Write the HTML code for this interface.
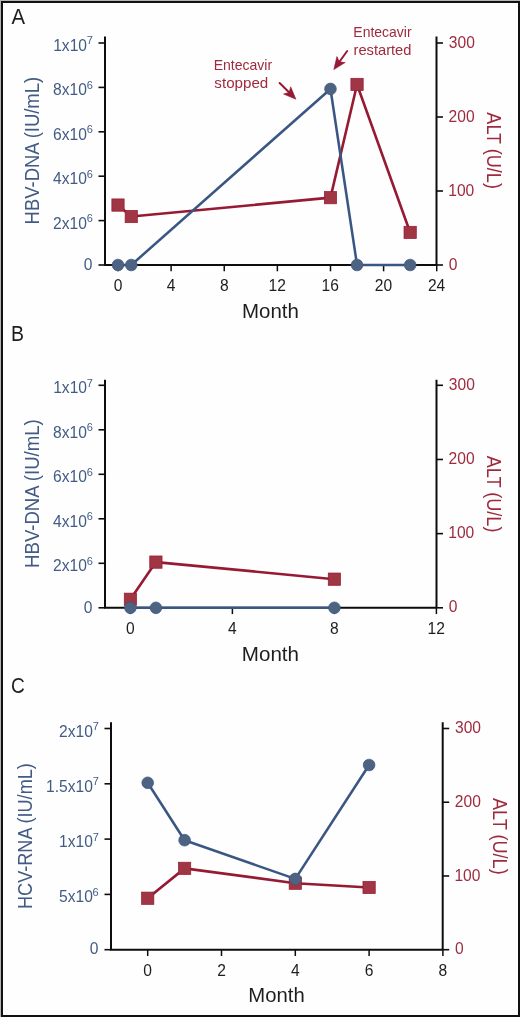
<!DOCTYPE html>
<html><head><meta charset="utf-8"><style>
html,body{margin:0;padding:0;background:#fff;}
body{width:520px;height:1017px;overflow:hidden;position:relative;}
svg{position:absolute;left:0;top:0;will-change:transform;font-family:"Liberation Sans", sans-serif;}
</style></head><body>
<svg width="520" height="1017" viewBox="0 0 520 1017">
<rect x="0" y="0" width="520" height="1017" fill="#b4b4b4"/>
<rect x="1" y="1" width="519" height="1016" fill="#111"/>
<rect x="3" y="3" width="515" height="1012" fill="#fefefe"/>
<path d="M105,36.5 V265.0 H436.5 M436.5,36.5 V265.0" fill="none" stroke="#0d0d0d" stroke-width="2"/>
<line x1="98.5" y1="43" x2="105" y2="43" stroke="#0d0d0d" stroke-width="1.6"/>
<line x1="98.5" y1="87.4" x2="105" y2="87.4" stroke="#0d0d0d" stroke-width="1.6"/>
<line x1="98.5" y1="131.8" x2="105" y2="131.8" stroke="#0d0d0d" stroke-width="1.6"/>
<line x1="98.5" y1="176.2" x2="105" y2="176.2" stroke="#0d0d0d" stroke-width="1.6"/>
<line x1="98.5" y1="220.6" x2="105" y2="220.6" stroke="#0d0d0d" stroke-width="1.6"/>
<line x1="98.5" y1="265" x2="105" y2="265" stroke="#0d0d0d" stroke-width="1.6"/>
<line x1="436.5" y1="43" x2="443.0" y2="43" stroke="#0d0d0d" stroke-width="1.6"/>
<line x1="436.5" y1="117" x2="443.0" y2="117" stroke="#0d0d0d" stroke-width="1.6"/>
<line x1="436.5" y1="191" x2="443.0" y2="191" stroke="#0d0d0d" stroke-width="1.6"/>
<line x1="436.5" y1="265" x2="443.0" y2="265" stroke="#0d0d0d" stroke-width="1.6"/>
<line x1="118" y1="265.0" x2="118" y2="271.3" stroke="#0d0d0d" stroke-width="1.5"/>
<line x1="171.12" y1="265.0" x2="171.12" y2="271.3" stroke="#0d0d0d" stroke-width="1.5"/>
<line x1="224.24" y1="265.0" x2="224.24" y2="271.3" stroke="#0d0d0d" stroke-width="1.5"/>
<line x1="277.36" y1="265.0" x2="277.36" y2="271.3" stroke="#0d0d0d" stroke-width="1.5"/>
<line x1="330.48" y1="265.0" x2="330.48" y2="271.3" stroke="#0d0d0d" stroke-width="1.5"/>
<line x1="383.6" y1="265.0" x2="383.6" y2="271.3" stroke="#0d0d0d" stroke-width="1.5"/>
<line x1="436.72" y1="265.0" x2="436.72" y2="271.3" stroke="#0d0d0d" stroke-width="1.5"/>
<text x="53.18" y="51" font-size="15.6" fill="#425b84">1x10</text>
<text x="86.74" y="44.4" font-size="11" fill="#425b84">7</text>
<text x="53.11" y="95.4" font-size="15.6" fill="#425b84">8x10</text>
<text x="86.67" y="88.8" font-size="11" fill="#425b84">6</text>
<text x="53.11" y="139.8" font-size="15.6" fill="#425b84">6x10</text>
<text x="86.67" y="133.2" font-size="11" fill="#425b84">6</text>
<text x="53.11" y="184.2" font-size="15.6" fill="#425b84">4x10</text>
<text x="86.67" y="177.6" font-size="11" fill="#425b84">6</text>
<text x="53.11" y="228.6" font-size="15.6" fill="#425b84">2x10</text>
<text x="86.67" y="222" font-size="11" fill="#425b84">6</text>
<text x="83.83" y="269.7" font-size="15.6" fill="#425b84">0</text>
<text x="448.81" y="47.6" font-size="15.6" fill="#9e2a3e">300</text>
<text x="448.62" y="121.6" font-size="15.6" fill="#9e2a3e">200</text>
<text x="448.21" y="195.6" font-size="15.6" fill="#9e2a3e">100</text>
<text x="448.79" y="269.6" font-size="15.6" fill="#9e2a3e">0</text>
<text x="113.66" y="291" font-size="15.6" fill="#1e1e1e">0</text>
<text x="166.83" y="291" font-size="15.6" fill="#1e1e1e">4</text>
<text x="219.9" y="291" font-size="15.6" fill="#1e1e1e">8</text>
<text x="268.48" y="291" font-size="15.6" fill="#1e1e1e">12</text>
<text x="321.55" y="291" font-size="15.6" fill="#1e1e1e">16</text>
<text x="374.84" y="291" font-size="15.6" fill="#1e1e1e">20</text>
<text x="427.88" y="291" font-size="15.6" fill="#1e1e1e">24</text>
<text x="242.02" y="317.6" font-size="20" fill="#1e1e1e" textLength="56.91" lengthAdjust="spacingAndGlyphs">Month</text>
<text transform="translate(38.6,224.39) rotate(-90)" font-size="20" fill="#425b84" textLength="147.52" lengthAdjust="spacingAndGlyphs">HBV-DNA (IU/mL)</text>
<text transform="translate(486.9,112.37) rotate(90)" font-size="20" fill="#9e2a3e" textLength="76.53" lengthAdjust="spacingAndGlyphs">ALT (U/L)</text>
<polyline points="118.00,205.06 131.28,216.53 330.48,197.66 357.04,84.44 410.16,232.44" fill="none" stroke="#961a34" stroke-width="2.6" stroke-linejoin="round"/>
<rect x="111.85" y="198.91" width="12.30" height="12.30" fill="#a03543" stroke="#961a34" stroke-width="0.7"/>
<rect x="125.13" y="210.38" width="12.30" height="12.30" fill="#a03543" stroke="#961a34" stroke-width="0.7"/>
<rect x="324.33" y="191.51" width="12.30" height="12.30" fill="#a03543" stroke="#961a34" stroke-width="0.7"/>
<rect x="350.89" y="78.29" width="12.30" height="12.30" fill="#a03543" stroke="#961a34" stroke-width="0.7"/>
<rect x="404.01" y="226.29" width="12.30" height="12.30" fill="#a03543" stroke="#961a34" stroke-width="0.7"/>
<polyline points="118.00,265.00 131.28,265.00 330.48,88.95 357.04,265.00 410.16,265.00" fill="none" stroke="#3a5682" stroke-width="2.55" stroke-linejoin="round"/>
<circle cx="118.00" cy="265.00" r="5.8500000000000005" fill="#4e6382" stroke="#3a5682" stroke-width="0.7"/>
<circle cx="131.28" cy="265.00" r="5.8500000000000005" fill="#4e6382" stroke="#3a5682" stroke-width="0.7"/>
<circle cx="330.48" cy="88.95" r="5.8500000000000005" fill="#4e6382" stroke="#3a5682" stroke-width="0.7"/>
<circle cx="357.04" cy="265.00" r="5.8500000000000005" fill="#4e6382" stroke="#3a5682" stroke-width="0.7"/>
<circle cx="410.16" cy="265.00" r="5.8500000000000005" fill="#4e6382" stroke="#3a5682" stroke-width="0.7"/>
<text x="11.46" y="24.4" font-size="22" fill="#1e1e1e" textLength="13.58" lengthAdjust="spacingAndGlyphs">A</text>
<path d="M105,379.8 V607.8 H436.5 M436.5,379.8 V607.8" fill="none" stroke="#0d0d0d" stroke-width="2"/>
<line x1="98.5" y1="385.3" x2="105" y2="385.3" stroke="#0d0d0d" stroke-width="1.6"/>
<line x1="98.5" y1="429.8" x2="105" y2="429.8" stroke="#0d0d0d" stroke-width="1.6"/>
<line x1="98.5" y1="474.3" x2="105" y2="474.3" stroke="#0d0d0d" stroke-width="1.6"/>
<line x1="98.5" y1="518.8" x2="105" y2="518.8" stroke="#0d0d0d" stroke-width="1.6"/>
<line x1="98.5" y1="563.3" x2="105" y2="563.3" stroke="#0d0d0d" stroke-width="1.6"/>
<line x1="98.5" y1="607.8" x2="105" y2="607.8" stroke="#0d0d0d" stroke-width="1.6"/>
<line x1="436.5" y1="385.3" x2="443.0" y2="385.3" stroke="#0d0d0d" stroke-width="1.6"/>
<line x1="436.5" y1="459.47" x2="443.0" y2="459.47" stroke="#0d0d0d" stroke-width="1.6"/>
<line x1="436.5" y1="533.63" x2="443.0" y2="533.63" stroke="#0d0d0d" stroke-width="1.6"/>
<line x1="436.5" y1="607.8" x2="443.0" y2="607.8" stroke="#0d0d0d" stroke-width="1.6"/>
<line x1="130.4" y1="607.8" x2="130.4" y2="614.0999999999999" stroke="#0d0d0d" stroke-width="1.5"/>
<line x1="232.4" y1="607.8" x2="232.4" y2="614.0999999999999" stroke="#0d0d0d" stroke-width="1.5"/>
<line x1="334.4" y1="607.8" x2="334.4" y2="614.0999999999999" stroke="#0d0d0d" stroke-width="1.5"/>
<line x1="436.4" y1="607.8" x2="436.4" y2="614.0999999999999" stroke="#0d0d0d" stroke-width="1.5"/>
<text x="53.18" y="393.3" font-size="15.6" fill="#425b84">1x10</text>
<text x="86.74" y="386.7" font-size="11" fill="#425b84">7</text>
<text x="53.11" y="437.8" font-size="15.6" fill="#425b84">8x10</text>
<text x="86.67" y="431.2" font-size="11" fill="#425b84">6</text>
<text x="53.11" y="482.3" font-size="15.6" fill="#425b84">6x10</text>
<text x="86.67" y="475.7" font-size="11" fill="#425b84">6</text>
<text x="53.11" y="526.8" font-size="15.6" fill="#425b84">4x10</text>
<text x="86.67" y="520.2" font-size="11" fill="#425b84">6</text>
<text x="53.11" y="571.3" font-size="15.6" fill="#425b84">2x10</text>
<text x="86.67" y="564.7" font-size="11" fill="#425b84">6</text>
<text x="83.83" y="612.5" font-size="15.6" fill="#425b84">0</text>
<text x="448.81" y="389.9" font-size="15.6" fill="#9e2a3e">300</text>
<text x="448.62" y="464.07" font-size="15.6" fill="#9e2a3e">200</text>
<text x="448.21" y="538.23" font-size="15.6" fill="#9e2a3e">100</text>
<text x="448.79" y="612.4" font-size="15.6" fill="#9e2a3e">0</text>
<text x="126.06" y="634.1" font-size="15.6" fill="#1e1e1e">0</text>
<text x="228.11" y="634.1" font-size="15.6" fill="#1e1e1e">4</text>
<text x="330.06" y="634.1" font-size="15.6" fill="#1e1e1e">8</text>
<text x="427.52" y="634.1" font-size="15.6" fill="#1e1e1e">12</text>
<text x="241.81" y="660.8" font-size="20" fill="#1e1e1e" textLength="57.23" lengthAdjust="spacingAndGlyphs">Month</text>
<text transform="translate(38.5,567.9) rotate(-90)" font-size="20" fill="#425b84" textLength="148.64" lengthAdjust="spacingAndGlyphs">HBV-DNA (IU/mL)</text>
<text transform="translate(486.9,455.77) rotate(90)" font-size="20" fill="#9e2a3e" textLength="76.63" lengthAdjust="spacingAndGlyphs">ALT (U/L)</text>
<polyline points="130.40,599.27 155.90,562.11 334.40,579.17" fill="none" stroke="#961a34" stroke-width="2.6" stroke-linejoin="round"/>
<rect x="124.25" y="593.12" width="12.30" height="12.30" fill="#a03543" stroke="#961a34" stroke-width="0.7"/>
<rect x="149.75" y="555.96" width="12.30" height="12.30" fill="#a03543" stroke="#961a34" stroke-width="0.7"/>
<rect x="328.25" y="573.02" width="12.30" height="12.30" fill="#a03543" stroke="#961a34" stroke-width="0.7"/>
<polyline points="130.40,607.80 155.90,607.80 334.40,607.80" fill="none" stroke="#3a5682" stroke-width="2.55" stroke-linejoin="round"/>
<circle cx="130.40" cy="607.80" r="5.8500000000000005" fill="#4e6382" stroke="#3a5682" stroke-width="0.7"/>
<circle cx="155.90" cy="607.80" r="5.8500000000000005" fill="#4e6382" stroke="#3a5682" stroke-width="0.7"/>
<circle cx="334.40" cy="607.80" r="5.8500000000000005" fill="#4e6382" stroke="#3a5682" stroke-width="0.7"/>
<text x="10.9" y="340.8" font-size="22" fill="#1e1e1e" textLength="13.03" lengthAdjust="spacingAndGlyphs">B</text>
<path d="M111,722.3 V949.7 H442.7 M442.7,722.3 V949.7" fill="none" stroke="#0d0d0d" stroke-width="2"/>
<line x1="104.5" y1="728.5" x2="111" y2="728.5" stroke="#0d0d0d" stroke-width="1.6"/>
<line x1="104.5" y1="783.8" x2="111" y2="783.8" stroke="#0d0d0d" stroke-width="1.6"/>
<line x1="104.5" y1="839.1" x2="111" y2="839.1" stroke="#0d0d0d" stroke-width="1.6"/>
<line x1="104.5" y1="894.4" x2="111" y2="894.4" stroke="#0d0d0d" stroke-width="1.6"/>
<line x1="104.5" y1="949.7" x2="111" y2="949.7" stroke="#0d0d0d" stroke-width="1.6"/>
<line x1="442.7" y1="728.5" x2="449.2" y2="728.5" stroke="#0d0d0d" stroke-width="1.6"/>
<line x1="442.7" y1="802.23" x2="449.2" y2="802.23" stroke="#0d0d0d" stroke-width="1.6"/>
<line x1="442.7" y1="875.97" x2="449.2" y2="875.97" stroke="#0d0d0d" stroke-width="1.6"/>
<line x1="442.7" y1="949.7" x2="449.2" y2="949.7" stroke="#0d0d0d" stroke-width="1.6"/>
<line x1="147.7" y1="949.7" x2="147.7" y2="956.0" stroke="#0d0d0d" stroke-width="1.5"/>
<line x1="221.5" y1="949.7" x2="221.5" y2="956.0" stroke="#0d0d0d" stroke-width="1.5"/>
<line x1="295.3" y1="949.7" x2="295.3" y2="956.0" stroke="#0d0d0d" stroke-width="1.5"/>
<line x1="369.1" y1="949.7" x2="369.1" y2="956.0" stroke="#0d0d0d" stroke-width="1.5"/>
<line x1="442.9" y1="949.7" x2="442.9" y2="956.0" stroke="#0d0d0d" stroke-width="1.5"/>
<text x="59.08" y="736.5" font-size="15.6" fill="#425b84">2x10</text>
<text x="92.64" y="729.9" font-size="11" fill="#425b84">7</text>
<text x="46.07" y="791.8" font-size="15.6" fill="#425b84">1.5x10</text>
<text x="92.64" y="785.2" font-size="11" fill="#425b84">7</text>
<text x="59.08" y="847.1" font-size="15.6" fill="#425b84">1x10</text>
<text x="92.64" y="840.5" font-size="11" fill="#425b84">7</text>
<text x="59.01" y="902.4" font-size="15.6" fill="#425b84">5x10</text>
<text x="92.57" y="895.8" font-size="11" fill="#425b84">6</text>
<text x="89.73" y="954.4" font-size="15.6" fill="#425b84">0</text>
<text x="455.01" y="733.1" font-size="15.6" fill="#9e2a3e">300</text>
<text x="454.82" y="806.83" font-size="15.6" fill="#9e2a3e">200</text>
<text x="454.41" y="880.57" font-size="15.6" fill="#9e2a3e">100</text>
<text x="454.99" y="954.3" font-size="15.6" fill="#9e2a3e">0</text>
<text x="143.36" y="976.2" font-size="15.6" fill="#1e1e1e">0</text>
<text x="217.16" y="976.2" font-size="15.6" fill="#1e1e1e">2</text>
<text x="291.01" y="976.2" font-size="15.6" fill="#1e1e1e">4</text>
<text x="364.71" y="976.2" font-size="15.6" fill="#1e1e1e">6</text>
<text x="438.56" y="976.2" font-size="15.6" fill="#1e1e1e">8</text>
<text x="248.34" y="1002.3" font-size="20" fill="#1e1e1e" textLength="56.38" lengthAdjust="spacingAndGlyphs">Month</text>
<text transform="translate(32.2,908.96) rotate(-90)" font-size="20" fill="#425b84" textLength="145.77" lengthAdjust="spacingAndGlyphs">HCV-RNA (IU/mL)</text>
<text transform="translate(493.3,797.97) rotate(90)" font-size="20" fill="#9e2a3e" textLength="76.73" lengthAdjust="spacingAndGlyphs">ALT (U/L)</text>
<polyline points="147.70,898.23 184.60,868.37 295.30,883.19 369.10,887.47" fill="none" stroke="#961a34" stroke-width="2.6" stroke-linejoin="round"/>
<rect x="141.55" y="892.08" width="12.30" height="12.30" fill="#a03543" stroke="#961a34" stroke-width="0.7"/>
<rect x="178.45" y="862.22" width="12.30" height="12.30" fill="#a03543" stroke="#961a34" stroke-width="0.7"/>
<rect x="289.15" y="877.04" width="12.30" height="12.30" fill="#a03543" stroke="#961a34" stroke-width="0.7"/>
<rect x="362.95" y="881.32" width="12.30" height="12.30" fill="#a03543" stroke="#961a34" stroke-width="0.7"/>
<polyline points="147.70,782.80 184.60,840.21 295.30,878.92 369.10,765.00" fill="none" stroke="#3a5682" stroke-width="2.55" stroke-linejoin="round"/>
<circle cx="147.70" cy="782.80" r="5.8500000000000005" fill="#4e6382" stroke="#3a5682" stroke-width="0.7"/>
<circle cx="184.60" cy="840.21" r="5.8500000000000005" fill="#4e6382" stroke="#3a5682" stroke-width="0.7"/>
<circle cx="295.30" cy="878.92" r="5.8500000000000005" fill="#4e6382" stroke="#3a5682" stroke-width="0.7"/>
<circle cx="369.10" cy="765.00" r="5.8500000000000005" fill="#4e6382" stroke="#3a5682" stroke-width="0.7"/>
<text x="10.93" y="692.6" font-size="22" fill="#1e1e1e" textLength="13.8" lengthAdjust="spacingAndGlyphs">C</text>
<text x="213.65" y="70" font-size="14.8" fill="#9e2a3e" textLength="58.48" lengthAdjust="spacingAndGlyphs">Entecavir</text>
<text x="214.38" y="88.1" font-size="14.8" fill="#9e2a3e" textLength="53.9" lengthAdjust="spacingAndGlyphs">stopped</text>
<text x="353.35" y="36.8" font-size="14.8" fill="#9e2a3e" textLength="58.28" lengthAdjust="spacingAndGlyphs">Entecavir</text>
<text x="353.53" y="54.8" font-size="14.8" fill="#9e2a3e" textLength="57.92" lengthAdjust="spacingAndGlyphs">restarted</text>
<line x1="279.6" y1="83.0" x2="289.45" y2="92.79" stroke="#961a34" stroke-width="2.0" stroke-linecap="round"/>
<path d="M295.90,99.20 L283.51,94.08 L289.09,92.43 L290.70,86.84 Z" fill="#961a34" stroke="#961a34" stroke-width="0.6" stroke-linejoin="round"/>
<line x1="347.2" y1="51.0" x2="339.12" y2="62.22" stroke="#961a34" stroke-width="2.0" stroke-linecap="round"/>
<path d="M333.80,69.60 L336.91,56.56 L339.41,61.81 L345.19,62.52 Z" fill="#961a34" stroke="#961a34" stroke-width="0.6" stroke-linejoin="round"/>
</svg>
</body></html>
